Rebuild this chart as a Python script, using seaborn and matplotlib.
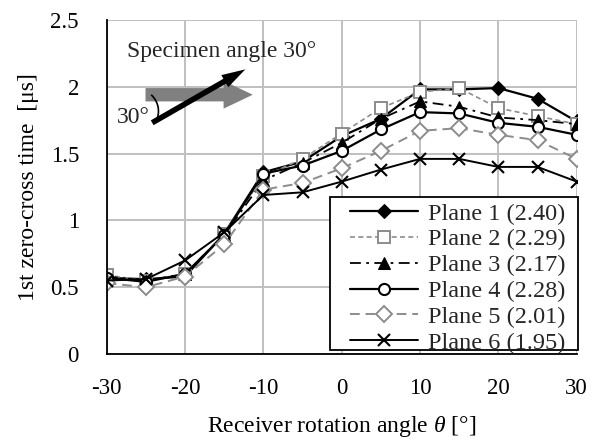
import numpy as np
import pandas as pd
import matplotlib
matplotlib.use("Agg")
import matplotlib.pyplot as plt
import matplotlib.patches as mpatches
from matplotlib.transforms import ScaledTranslation
from matplotlib.ticker import FuncFormatter
import seaborn as sns

# -----------------------------
# Data
# -----------------------------
angles = [-30, -25, -20, -15, -10, -5, 0, 5, 10, 15, 20, 25, 30]

plane1 = [0.57, 0.56, 0.58, 0.90, 1.36, 1.44, 1.63, 1.76, 1.98, 1.98, 1.99, 1.91, 1.74]
plane2 = [0.59, 0.55, 0.60, 0.90, 1.33, 1.46, 1.65, 1.84, 1.96, 1.99, 1.84, 1.78, 1.72]
plane3 = [0.58, 0.55, 0.60, 0.89, 1.30, 1.43, 1.58, 1.76, 1.89, 1.85, 1.77, 1.75, 1.72]
plane4 = [0.57, 0.54, 0.60, 0.89, 1.35, 1.41, 1.52, 1.68, 1.81, 1.80, 1.73, 1.70, 1.64]
plane5 = [0.53, 0.50, 0.58, 0.82, 1.23, 1.28, 1.39, 1.52, 1.67, 1.69, 1.64, 1.60, 1.46]
plane6 = [0.55, 0.56, 0.70, 0.91, 1.19, 1.21, 1.29, 1.38, 1.46, 1.46, 1.40, 1.40, 1.29]

labels = ["Plane 1 (2.40)", "Plane 2 (2.29)", "Plane 3 (2.17)",
          "Plane 4 (2.28)", "Plane 5 (2.01)", "Plane 6 (1.95)"]

yticks = [0, 0.5, 1, 1.5, 2, 2.5]
xticks = [-30, -20, -10, 0, 10, 20, 30]

# -----------------------------
# Style
# -----------------------------
sns.set_theme(style="whitegrid")
plt.rcParams["font.family"] = ["Liberation Serif", "DejaVu Serif"]
plt.rcParams["mathtext.fontset"] = "custom"
plt.rcParams["mathtext.rm"] = "Liberation Serif"
plt.rcParams["mathtext.it"] = "Liberation Serif:italic"
plt.rcParams["axes.unicode_minus"] = False

GRAY = "#8c8c8c"
styles = [
    dict(color="black", linestyle="-", lw=1.6, marker="D", ms=7, mfc="black", mec="black"),
    dict(color=GRAY, linestyle=(0, (3, 2)), lw=1.2, marker="s", ms=8, mfc="white", mec=GRAY, mew=1.4),
    dict(color="black", linestyle=(0, (6, 3, 1.5, 3)), lw=1.3, marker="^", ms=8, mfc="black", mec="black"),
    dict(color="black", linestyle="-", lw=1.6, marker="o", ms=8, mfc="white", mec="black", mew=1.5),
    dict(color=GRAY, linestyle=(0, (5, 3)), lw=1.4, marker="D", ms=8, mfc="white", mec=GRAY, mew=1.4),
    dict(color="black", linestyle="-", lw=1.4, marker="x", ms=9, mec="black", mew=1.5),
]

df = pd.DataFrame({"angle": angles,
                   labels[0]: plane1, labels[1]: plane2, labels[2]: plane3,
                   labels[3]: plane4, labels[4]: plane5, labels[5]: plane6})

fig = plt.figure(figsize=(6.08, 4.42), dpi=100)
ax = fig.add_axes([0.1755, 0.199, 0.773, 0.756])

for lab, st in zip(labels, styles):
    sns.lineplot(data=df, x="angle", y=lab, ax=ax, label=lab, **st)

ax.set_xlim(-30, 30)
ax.set_ylim(0, 2.5)
ax.set_xticks(xticks)
ax.set_yticks(yticks)
ax.yaxis.set_major_formatter(FuncFormatter(lambda v, p: f"{v:g}"))
ax.grid(True, color="#c0c0c0", lw=1.4)
ax.set_axisbelow(True)
ax.set_facecolor("white")
for s in ["top", "right"]:
    ax.spines[s].set_visible(False)
for s in ["left", "bottom"]:
    ax.spines[s].set_color("black")
    ax.spines[s].set_linewidth(1.3)
ax.tick_params(direction="inout", length=10, width=1.3, color="black",
               labelsize=16.5, labelcolor="black")
ax.tick_params(axis="y", pad=15)
ax.tick_params(axis="x", pad=12)

ax.set_xlabel(r"Receiver rotation angle $\theta$ [°]", fontsize=17, color="black", labelpad=11)
ax.set_ylabel("1st zero-cross time  [μs]", fontsize=17, color="black", labelpad=8)

# legend: frame drawn separately so the padding can follow the reference
leg = ax.legend(loc="upper left", bbox_to_anchor=(0.518, 0.453), fontsize=17.5,
                frameon=False, borderaxespad=0, borderpad=0,
                labelspacing=0.155, handlelength=2.8, handletextpad=0.4)
leg.set_zorder(6)
frame = mpatches.Rectangle((0.475, 0.012), 0.528, 0.458, transform=ax.transAxes,
                           facecolor="white", edgecolor="black", lw=1.3,
                           clip_on=False, zorder=5)
ax.add_patch(frame)

# -----------------------------
# Specimen angle annotation
# -----------------------------
gray_arrow = mpatches.FancyArrowPatch(
    (-25.4, 1.94), (-11.0, 1.94),
    arrowstyle="simple,head_length=21,head_width=20,tail_width=9.6",
    mutation_scale=1, color="#808080", lw=0, zorder=5)
ax.add_patch(gray_arrow)
black_arrow = mpatches.FancyArrowPatch(
    (-24.5, 1.72), (-12.0, 2.14),
    arrowstyle="simple,head_length=17,head_width=10,tail_width=4",
    mutation_scale=1, color="black", lw=0, zorder=6)
ax.add_patch(black_arrow)
arc = mpatches.Arc((0, 0), 0.44, 0.44, theta1=-26, theta2=48,
                   transform=fig.dpi_scale_trans + ScaledTranslation(-26.2, 1.817, ax.transData),
                   color="black", lw=1.2, zorder=7)
ax.add_patch(arc)
ax.text(-27.4, 2.26, "Specimen angle 30°", fontsize=17, va="center", ha="left", zorder=7)
ax.text(-28.7, 1.77, "30°", fontsize=17, va="center", ha="left", zorder=7)

fig.savefig("out.png", dpi=100)
